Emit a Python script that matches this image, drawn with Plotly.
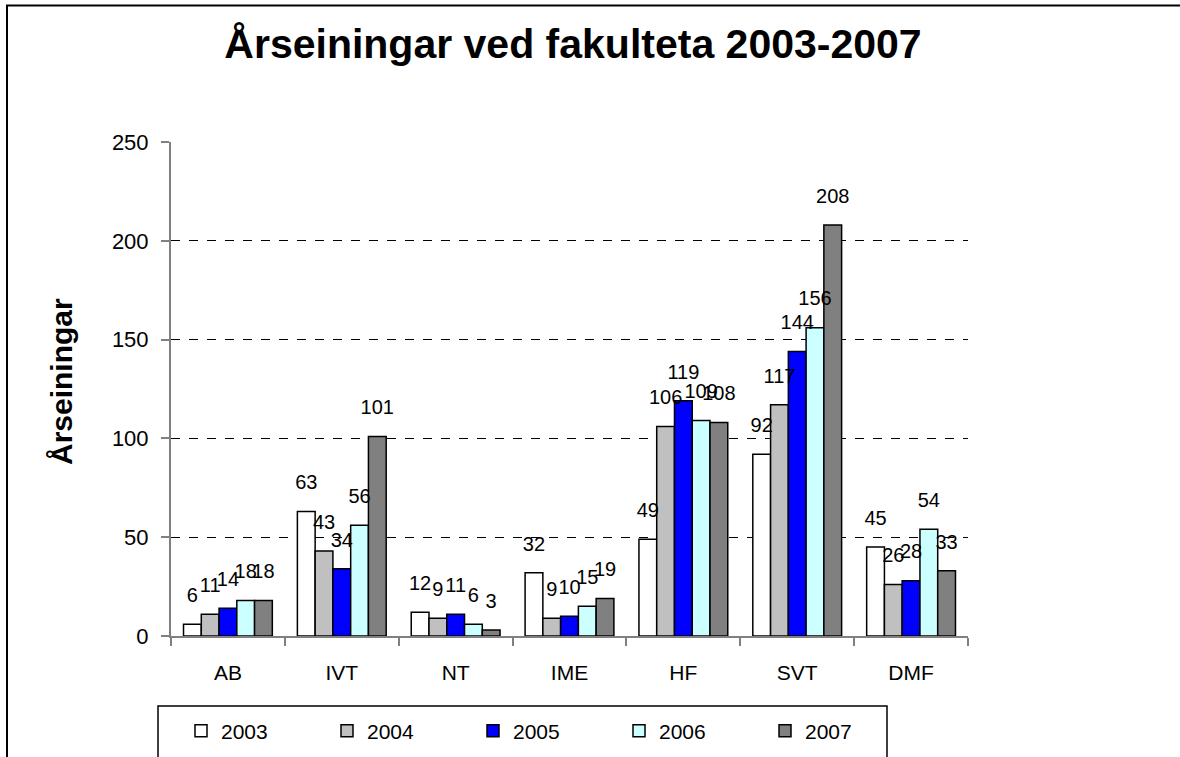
import plotly.graph_objects as go

categories = ["AB", "IVT", "NT", "IME", "HF", "SVT", "DMF"]
years = ["2003", "2004", "2005", "2006", "2007"]
v2003 = [6, 63, 12, 32, 49, 92, 45]
v2004 = [11, 43, 9, 9, 106, 117, 26]
v2005 = [14, 34, 11, 10, 119, 144, 28]
v2006 = [18, 56, 6, 15, 109, 156, 54]
v2007 = [18, 101, 3, 19, 108, 208, 33]
series = [v2003, v2004, v2005, v2006, v2007]
colors = ["#FFFFFF", "#C0C0C0", "#0000FF", "#CCFFFF", "#808080"]

W, H = 1180, 757
L, R, T, B = 171, 968, 142, 636
pw, ph = R - L, B - T


def px(x):
    return (x - L) / pw


def py(y):
    return (B - y) / ph


FONT = "Liberation Sans, Arial, sans-serif"

fig = go.Figure()
for name, vals, col in zip(years, series, colors):
    fig.add_trace(go.Bar(
        x=categories, y=vals, name=name,
        marker=dict(color=col, line=dict(color="black", width=1.5)),
        hoverinfo="skip",
    ))
# data labels, grouped like the bars, lifted above the bar tops
for name, vals in zip(years, series):
    fig.add_trace(go.Scatter(
        x=categories, y=vals, mode="markers+text", showlegend=False,
        text=[str(v) for v in vals], textposition="top center",
        textfont=dict(size=20, color="black", family=FONT),
        marker=dict(size=26, color="rgba(0,0,0,0)"),
        cliponaxis=False, hoverinfo="skip",
    ))

fig.update_layout(
    width=W, height=H,
    margin=dict(l=L, r=W - R, t=T, b=H - B, autoexpand=False),
    paper_bgcolor="white", plot_bgcolor="white",
    barmode="group", bargap=0.22, bargroupgap=0,
    scattermode="group", scattergap=0.22,
    font=dict(family=FONT, color="black", size=20),
    title=dict(text="<b>Årseiningar ved fakulteta 2003-2007</b>",
               x=573 / W, xanchor="center", y=1 - 44 / H, yanchor="middle",
               font=dict(size=41, family=FONT, color="black")),
    showlegend=True,
    legend=dict(orientation="h", x=px(181), xanchor="left",
                y=py(731), yanchor="middle",
                entrywidth=101, entrywidthmode="pixels",
                font=dict(size=21, family=FONT, color="black"),
                bgcolor="rgba(0,0,0,0)", borderwidth=0,
                traceorder="normal"),
    xaxis=dict(showline=True, linecolor="#808080", linewidth=1.5,
               ticks="outside", tickson="boundaries", ticklen=8,
               tickcolor="#808080", tickwidth=1.5,
               tickfont=dict(size=21, family=FONT, color="black"),
               ticklabelstandoff=17, showgrid=False, fixedrange=True),
    yaxis=dict(range=[0, 250], dtick=50, showline=True, linecolor="#808080",
               linewidth=2, ticks="outside", ticklen=8, tickcolor="#808080",
               tickwidth=1.5, showgrid=True, gridcolor="black", gridwidth=1,
               griddash="dash", zeroline=False,
               tickfont=dict(size=22, family=FONT, color="black"),
               ticklabelstandoff=8, fixedrange=True),
    annotations=[dict(text="<b>Årseiningar</b>", x=px(61), y=py(382),
                      xref="paper", yref="paper", textangle=-90,
                      showarrow=False, xanchor="center", yanchor="middle",
                      font=dict(size=30, family=FONT, color="black"))],
    shapes=[
        dict(type="rect", xref="paper", yref="paper",
             x0=px(7), x1=px(1200), y0=py(5.5), y1=py(820),
             line=dict(color="black", width=2), fillcolor="rgba(0,0,0,0)",
             layer="below"),
        dict(type="rect", xref="paper", yref="paper",
             x0=px(158), x1=px(887), y0=py(706), y1=py(820),
             line=dict(color="black", width=1.5), fillcolor="rgba(0,0,0,0)",
             layer="below"),
    ],
)

fig.write_html("out.html", config={"displayModeBar": False},
               post_script="document.body.style.margin='0';"
                           "document.body.style.overflow='hidden';")
